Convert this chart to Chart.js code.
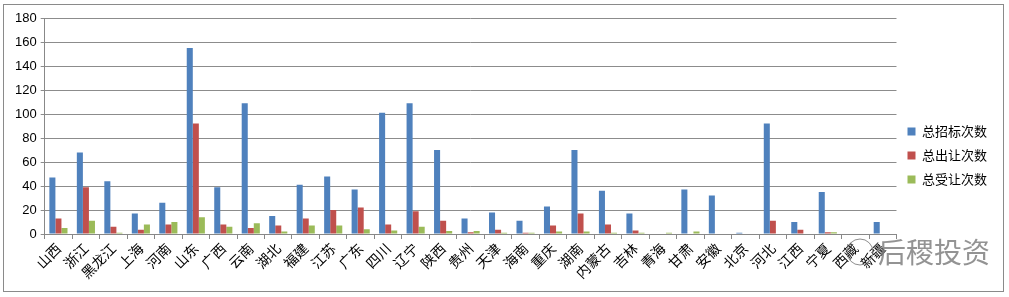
<!DOCTYPE html>
<html>
<head>
<meta charset="utf-8">
<script src="https://cdn.jsdelivr.net/npm/chart.js@4.4.0/dist/chart.umd.min.js"></script>
<style>
  body { margin: 0; background: #fff; }
  #frame { position: absolute; left: 3px; top: 4px; width: 1001px; height: 288px; border: 1px solid #8a8a8a; box-sizing: border-box; }
  #wrap { position: absolute; left: 0; top: 0; width: 1009px; height: 297px; }
</style>
</head>
<body>
<div id="frame"></div>
<div id="wrap"><canvas id="myChart" width="1009" height="297"></canvas></div>
<script>
var provinces = ['山西','浙江','黑龙江','上海','河南','山东','广西','云南','湖北','福建','江苏','广东','四川','辽宁','陕西','贵州','天津','海南','重庆','湖南','内蒙古','吉林','青海','甘肃','安徽','北京','河北','江西','宁夏','西藏','新疆'];
var totalBids      = [47, 68, 44, 17, 26, 155, 39, 109, 15, 41, 48, 37, 101, 109, 70, 13, 18, 11, 23, 70, 36, 17, 0, 37, 32, 1, 92, 10, 35, 0, 10];
var totalTransfers = [13, 39, 6, 3.5, 8, 92, 8, 5, 7, 13, 20, 22, 8, 19, 11, 1.5, 3.5, 1, 7, 17, 8, 3, 0, 0, 0, 0, 11, 3.5, 1.5, 0, 0];
var totalReceived  = [5, 11, 1, 8, 10, 14, 6, 9, 2, 7, 7, 4, 3, 6, 2.5, 2.5, 1, 1, 2, 2, 1, 1, 1, 2, 0, 0, 0, 0, 1.5, 0, 0];
var yTicks = [0, 20, 40, 60, 80, 100, 120, 140, 160, 180];

var watermark = {
    id: 'watermark',
    afterDraw: function(chart) {
        var c = chart.ctx;
        c.save();
        c.strokeStyle = 'rgba(130,130,130,0.9)';
        c.lineWidth = 1;
        c.beginPath();
        c.arc(860, 252, 13, 0, Math.PI * 2);
        c.stroke();
        c.font = '28px "Noto Sans CJK SC"';
        c.fillStyle = 'rgba(120,120,120,0.8)';
        c.textBaseline = 'middle';
        c.fillText('后稷投资', 878, 252);
        c.restore();
    }
};

var ctx = document.getElementById('myChart').getContext('2d');
var myChart = new Chart(ctx, {
    type: 'bar',
    data: {
        labels: provinces,
        datasets: [{
            label: '总招标次数',
            data: totalBids,
            backgroundColor: '#4F81BD'
        }, {
            label: '总出让次数',
            data: totalTransfers,
            backgroundColor: '#C0504D'
        }, {
            label: '总受让次数',
            data: totalReceived,
            backgroundColor: '#9BBB59'
        }]
    },
    options: {
        responsive: false,
        animation: false,
        datasets: {
            bar: { barPercentage: 1, categoryPercentage: 0.66 }
        },
        layout: { padding: { left: 11, top: 18, right: 12, bottom: 4 } },
        plugins: {
            tooltip: { enabled: false },
            legend: {
                position: 'right',
                labels: {
                    boxWidth: 8,
                    boxHeight: 8,
                    padding: 11,
                    color: '#000',
                    font: { family: '"Noto Sans CJK SC"', size: 13 }
                }
            }
        },
        scales: {
            x: {
                afterFit: function(axis) { axis.height = 59; },
                grid: { offset: true, drawOnChartArea: false, tickLength: 5, color: '#888' },
                border: { color: '#888' },
                ticks: {
                    minRotation: 45,
                    maxRotation: 45,
                    autoSkip: false,
                    color: '#000',
                    padding: 1,
                    font: { family: '"Noto Sans CJK SC"', size: 14 }
                }
            },
            y: {
                min: 0,
                max: 180,
                afterBuildTicks: function(axis) {
                    axis.ticks = yTicks.map(function(v) { return { value: v }; });
                },
                grid: { color: '#8c8c8c', tickLength: 4 },
                border: { color: '#888' },
                ticks: {
                    color: '#000',
                    padding: 4,
                    font: { family: '"Liberation Sans", Arial', size: 13 }
                }
            }
        }
    },
    plugins: [watermark]
});
</script>
</body>
</html>
